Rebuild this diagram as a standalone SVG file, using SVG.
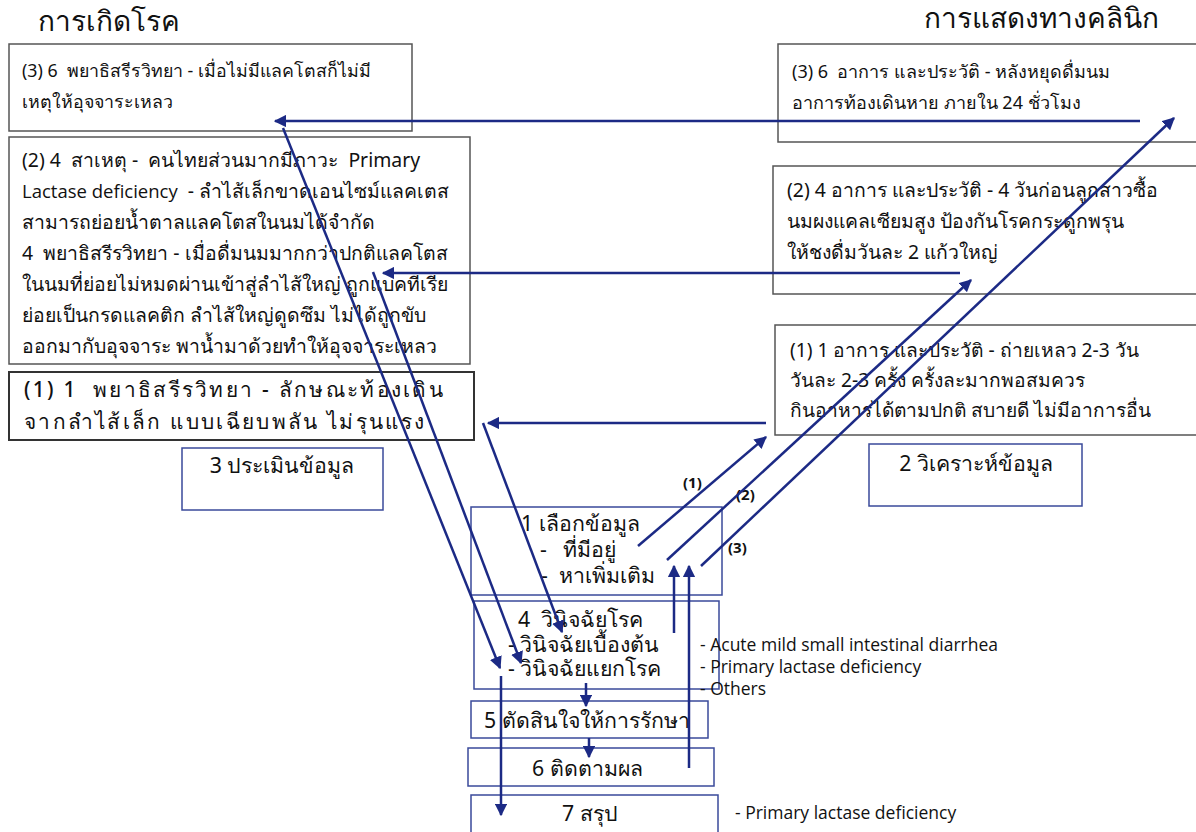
<svg xmlns="http://www.w3.org/2000/svg" width="1196" height="832" viewBox="0 0 1196 832">
<style>
.t{font-family:"Noto Sans","DejaVu Sans","Liberation Sans",sans-serif;fill:#111;}
.tb{fill:#fff;stroke:#555;stroke-width:1.5;}
.tc{fill:#fff;stroke:#333;stroke-width:2;}
.sb{fill:#fff;stroke:#3a4a9a;stroke-width:1.5;}
.ar{stroke:#1c2a85;stroke-width:2.5;fill:none;}
.en{font-family:"Open Sans","Liberation Sans",sans-serif;fill:#111;}
.s{font-size:21.3px;}
</style>
<defs>
<marker id="ah" viewBox="0 0 10 10" refX="9" refY="5" markerWidth="5" markerHeight="5" orient="auto" markerUnits="strokeWidth">
<path d="M0,0 L10,5 L0,10 z" fill="#1c2a85"/>
</marker>
</defs>
<rect width="1196" height="832" fill="#fff"/>
<text class="t" x="38" y="31" font-size="28">การเกิดโรค</text>
<text class="t" x="924" y="28" font-size="28">การแสดงทางคลินิก</text>

<g id="nA">
<rect class="tb" x="9" y="44" width="403" height="87"/>
<text class="t" font-size="17.8" x="22" y="77">(3) 6&#160; พยาธิสรีรวิทยา - เมื่อไม่มีแลคโตสก็ไม่มี</text>
<text class="t" font-size="17.8" x="22" y="108">เหตุให้อุจจาระเหลว</text>
</g>
<g id="nB">
<rect class="tb" x="9" y="137" width="461" height="227"/>
<text class="t" font-size="19.4" x="22" y="167">(2) 4&#160; สาเหตุ -&#160; คนไทยส่วนมากมีภาวะ&#160; Primary</text>
<text class="t" font-size="19.4" x="22" y="198"><tspan class="en" font-size="18.5">Lactase deficiency</tspan>&#160; - ลำไส้เล็กขาดเอนไซม์แลคเตส</text>
<text class="t" font-size="19.4" x="22" y="229">สามารถย่อยน้ำตาลแลคโตสในนมได้จำกัด</text>
<text class="t" font-size="19.4" x="22" y="260">4&#160; พยาธิสรีรวิทยา - เมื่อดื่มนมมากกว่าปกติแลคโตส</text>
<text class="t" font-size="19.4" x="22" y="291">ในนมที่ย่อยไม่หมดผ่านเข้าสู่ลำไส้ใหญ่ ถูกแบคทีเรีย</text>
<text class="t" font-size="19.4" x="22" y="322">ย่อยเป็นกรดแลคติก ลำไส้ใหญ่ดูดซึม ไม่ได้ถูกขับ</text>
<text class="t" font-size="19.4" x="22" y="353">ออกมากับอุจจาระ พาน้ำมาด้วยทำให้อุจจาระเหลว</text>
</g>
<g id="nC">
<rect class="tc" x="9" y="372" width="465" height="68"/>
<text class="t" font-size="20.8" letter-spacing="2.3" font-weight="500" x="24" y="397">(1) 1&#160; พยาธิสรีรวิทยา - ลักษณะท้องเดิน</text>
<text class="t" font-size="20.8" letter-spacing="2.3" font-weight="500" x="24" y="429">จากลำไส้เล็ก แบบเฉียบพลัน ไม่รุนแรง</text>
</g>
<g id="n3">
<rect class="sb" x="182" y="448" width="201" height="62"/>
<text class="t s" x="282" y="473" text-anchor="middle">3 ประเมินข้อมูล</text>
</g>
<g id="nD">
<rect class="tb" x="778" y="44" width="425" height="98"/>
<text class="t" font-size="18" x="792" y="78">(3) 6&#160; อาการ และประวัติ - หลังหยุดดื่มนม</text>
<text class="t" font-size="18" x="792" y="109">อาการท้องเดินหาย ภายใน 24 ชั่วโมง</text>
</g>
<g id="nE">
<rect class="tb" x="773" y="166" width="430" height="128"/>
<text class="t" font-size="19.4" x="787" y="197">(2) 4 อาการ และประวัติ - 4 วันก่อนลูกสาวซื้อ</text>
<text class="t" font-size="19.4" x="787" y="228">นมผงแคลเซียมสูง ป้องกันโรคกระดูกพรุน</text>
<text class="t" font-size="19.4" x="787" y="259">ให้ชงดื่มวันละ 2 แก้วใหญ่</text>
</g>
<g id="nF">
<rect class="tb" x="775" y="325" width="428" height="110"/>
<text class="t" font-size="19.2" x="790" y="357">(1) 1 อาการ และประวัติ - ถ่ายเหลว 2-3 วัน</text>
<text class="t" font-size="19.2" x="790" y="387">วันละ 2-3 ครั้ง ครั้งละมากพอสมควร</text>
<text class="t" font-size="19.2" x="790" y="417">กินอาหารได้ตามปกติ สบายดี ไม่มีอาการอื่น</text>
</g>
<g id="n2">
<rect class="sb" x="869" y="444" width="213" height="62"/>
<text class="t s" x="976" y="471" text-anchor="middle">2 วิเคราะห์ข้อมูล</text>
</g>
<g id="n1">
<rect class="sb" x="471" y="507" width="251" height="88"/>
<text class="t s" x="521" y="531">1 เลือกข้อมูล</text>
<text class="t s" x="540" y="557">-&#160;&#160; ที่มีอยู่</text>
<text class="t s" x="541" y="583">-&#160; หาเพิ่มเติม</text>
</g>
<g id="n4">
<rect class="sb" x="474" y="601" width="245" height="88"/>
<text class="t s" x="518" y="627">4&#160; วินิจฉัยโรค</text>
<text class="t s" x="508" y="652">- วินิจฉัยเบื้องต้น</text>
<text class="t s" x="508" y="676">- วินิจฉัยแยกโรค</text>
</g>
<g id="n5">
<rect class="sb" x="471" y="701" width="237" height="37"/>
<text class="t s" x="484" y="728">5 ตัดสินใจให้การรักษา</text>
</g>
<g id="n6">
<rect class="sb" x="468" y="748" width="246" height="38"/>
<text class="t s" x="532" y="776">6 ติดตามผล</text>
</g>
<g id="n7">
<rect class="sb" x="471" y="795" width="247" height="40"/>
<text class="t s" x="562" y="821">7 สรุป</text>
</g>
<g id="notes">
<text class="en" font-size="17.5" x="700" y="651">- Acute mild small intestinal diarrhea</text>
<text class="en" font-size="17.5" x="700" y="673">- Primary lactase deficiency</text>
<text class="en" font-size="17.5" x="700" y="695">- Others</text>
<text class="en" font-size="17.5" x="735" y="819">- Primary lactase deficiency</text>
<text class="en" font-size="15" font-weight="bold" x="683" y="488">(1)</text>
<text class="en" font-size="15" font-weight="bold" x="736" y="500">(2)</text>
<text class="en" font-size="15" font-weight="bold" x="728" y="553">(3)</text>
</g>
<g id="connectors">
<line class="ar" x1="1140" y1="121" x2="275" y2="121" marker-end="url(#ah)"/>
<line class="ar" x1="960" y1="273" x2="383" y2="273" marker-end="url(#ah)"/>
<line class="ar" x1="766" y1="423" x2="488" y2="423" marker-end="url(#ah)"/>
<line class="ar" x1="283" y1="128" x2="500" y2="668" marker-end="url(#ah)"/>
<line class="ar" x1="373" y1="272" x2="521" y2="663" marker-end="url(#ah)"/>
<line class="ar" x1="483" y1="423" x2="562" y2="632" marker-end="url(#ah)"/>
<line class="ar" x1="638" y1="546" x2="766" y2="437" marker-end="url(#ah)"/>
<line class="ar" x1="667" y1="560" x2="971" y2="280" marker-end="url(#ah)"/>
<line class="ar" x1="701" y1="566" x2="1174" y2="118" marker-end="url(#ah)"/>
<line class="ar" x1="674" y1="633" x2="674" y2="566" marker-end="url(#ah)"/>
<line class="ar" x1="689" y1="768" x2="689" y2="566" marker-end="url(#ah)"/>
<line class="ar" x1="586" y1="683" x2="586" y2="706" marker-end="url(#ah)"/>
<line class="ar" x1="589" y1="738" x2="589" y2="757" marker-end="url(#ah)"/>
<line class="ar" x1="501" y1="676" x2="501" y2="815" marker-end="url(#ah)"/>
</g>
</svg>
